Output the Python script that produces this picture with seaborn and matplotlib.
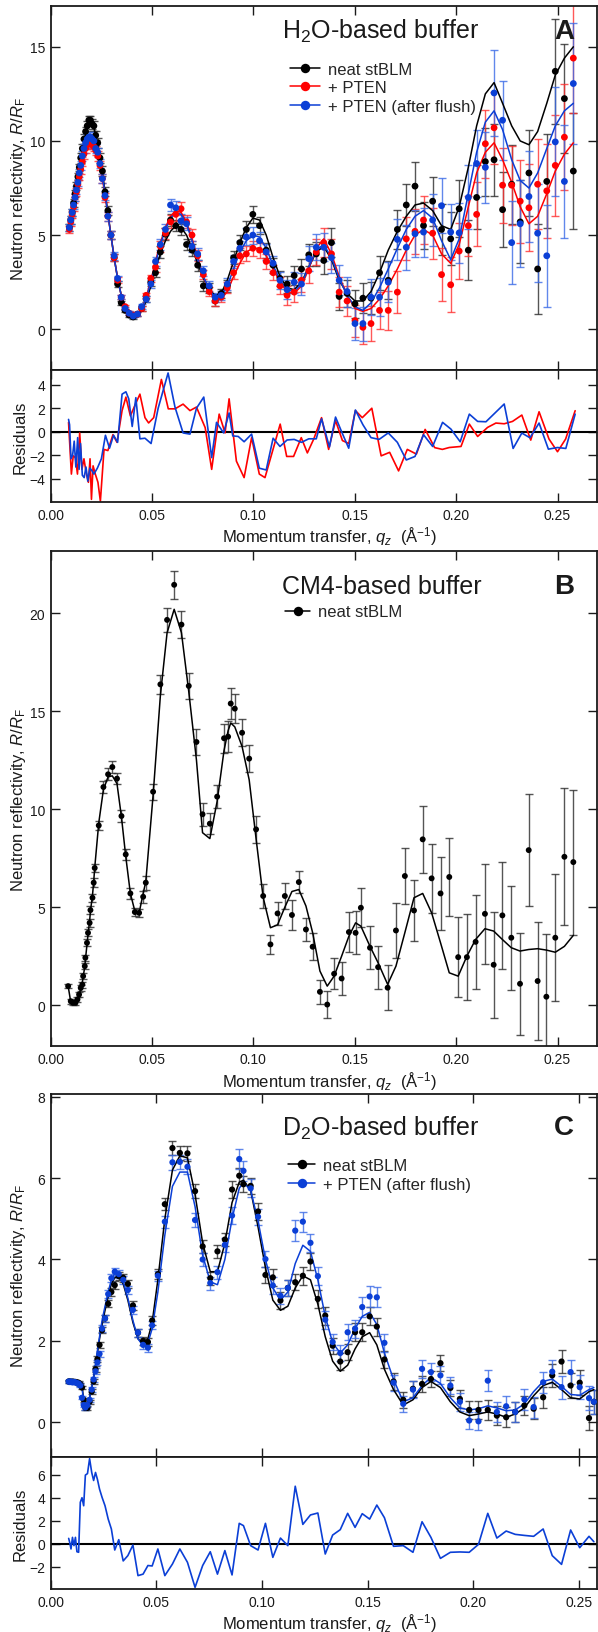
import matplotlib
matplotlib.use("Agg")
import matplotlib.pyplot as plt
import seaborn as sns
from matplotlib.lines import Line2D
from matplotlib.ticker import FormatStrFormatter

# ---------------------------------------------------------------- data
# Panel A: H2O-based buffer
q_h2o = [0.0092, 0.0099, 0.0106, 0.0113, 0.0120, 0.0127, 0.0134, 0.0141, 0.0148, 0.0156,
         0.0164, 0.0172, 0.0180, 0.0188, 0.0196, 0.0204, 0.0213, 0.0222, 0.0232, 0.0243,
         0.0255, 0.0268, 0.0282, 0.0297, 0.0313, 0.0330, 0.0348, 0.0367, 0.0387, 0.0407,
         0.0428, 0.0449, 0.0471, 0.0494, 0.0517, 0.0541, 0.0566, 0.0591, 0.0617, 0.0643,
         0.0670, 0.0697, 0.0725, 0.0753, 0.0782, 0.0811, 0.0841, 0.0871, 0.0902, 0.0933,
         0.0965, 0.0997, 0.1030, 0.1063, 0.1097, 0.1131, 0.1166, 0.1201, 0.1237, 0.1273,
         0.1310, 0.1347, 0.1385, 0.1423, 0.1462, 0.1501, 0.1540, 0.1580, 0.1622, 0.1665,
         0.1710, 0.1754, 0.1797, 0.1839, 0.1884, 0.1928, 0.1973, 0.2015, 0.2060, 0.2101,
         0.2144, 0.2187, 0.2229, 0.2274, 0.2316, 0.2359, 0.2402, 0.2447, 0.2489, 0.2534,
         0.2578]

r_neat_h2o = [5.4, 5.8, 6.2, 6.7, 7.2, 7.6, 8.1, 8.6, 9.1, 9.6,
              10.1, 10.5, 10.8, 11.1, 11.1, 10.9, 10.8, 10.3, 9.9, 9.1,
              8.4, 7.3, 6.3, 5.0, 3.8, 2.4, 1.4, 1.0, 0.75, 0.65,
              0.8, 1.1, 1.6, 2.5, 3.0, 4.1, 5.05, 5.8, 5.5, 5.3,
              4.5, 4.2, 3.4, 2.3, 2.2, 1.5, 1.9, 2.3, 3.8, 4.6,
              5.3, 6.1, 5.5, 4.2, 3.4, 2.7, 2.4, 2.85, 3.2, 3.95,
              4.0, 3.65, 4.6, 1.74, 1.9, 1.35, 1.65, 1.65, 3.0, 2.6,
              5.3, 6.6, 7.6, 5.5, 6.8, 5.3, 4.8, 6.4, 4.2, 7.0,
              8.9, 9.0, 6.35, 7.7, 5.7, 8.3, 3.2, 7.85, 13.7, 12.25,
              8.4]
r_pten_h2o = [5.3, 5.7, 6.1, 6.5, 7.0, 7.3, 7.7, 8.1, 8.5, 8.9,
              9.3, 9.6, 9.8, 9.9, 9.9, 9.8, 9.7, 9.5, 9.2, 8.7,
              8.0, 7.0, 6.0, 5.0, 3.8, 2.6, 1.7, 1.2, 0.85, 0.75,
              0.8, 1.1, 1.8, 2.7, 3.3, 4.4, 5.1, 5.7, 6.1, 6.4,
              5.7, 5.0, 3.9, 2.9, 2.0, 1.5, 1.7, 2.2, 3.0, 3.9,
              4.0, 4.3, 4.2, 3.6, 3.0, 2.3, 1.8, 1.97, 2.6, 3.1,
              4.1, 4.6, 4.0, 1.97, 1.5, 0.46, 0.1, 0.3, 1.0, 1.0,
              1.97, 4.8, 5.2, 5.8, 5.1, 2.9, 2.36, 4.15, 5.5, 6.1,
              9.85, 10.7, 7.65, 7.65, 6.8, 6.45, 7.7, 7.35, 8.7, 10.2,
              14.4]
r_flush_h2o = [5.4, 5.8, 6.2, 6.6, 7.0, 7.4, 7.8, 8.3, 8.7, 9.2,
               9.6, 9.9, 10.1, 10.2, 10.2, 10.1, 10.0, 9.6, 9.4, 8.8,
               8.0, 7.1, 6.0, 5.0, 3.9, 2.7, 1.7, 1.1, 0.85, 0.7,
               0.8, 1.2, 1.6, 2.4, 3.6, 4.5, 5.3, 6.6, 6.45, 5.75,
               5.6, 4.4, 4.0, 3.1, 2.3, 1.7, 1.8, 2.4, 3.6, 4.3,
               4.9, 5.0, 4.7, 4.1, 3.5, 2.6, 2.1, 2.5, 2.4, 3.75,
               4.35, 4.35, 3.8, 2.6, 2.0, 0.3, 0.3, 1.7, 1.7, 2.5,
               4.77, 4.35, 5.07, 5.16, 5.8, 6.56, 5.16, 5.12, 7.0, 8.8,
               8.6, 12.55, 11.1, 4.6, 5.6, 7.05, 5.1, 3.9, 9.95, 7.85,
               13.05]

err_neat_h2o = [0.2, 0.2, 0.2, 0.2, 0.2, 0.2, 0.2, 0.2, 0.25, 0.25,
                0.25, 0.25, 0.25, 0.25, 0.25, 0.25, 0.25, 0.25, 0.25, 0.25,
                0.25, 0.25, 0.25, 0.2, 0.2, 0.15, 0.12, 0.1, 0.1, 0.1,
                0.1, 0.12, 0.15, 0.2, 0.25, 0.3, 0.3, 0.3, 0.3, 0.3,
                0.3, 0.3, 0.3, 0.25, 0.25, 0.25, 0.25, 0.3, 0.35, 0.4,
                0.45, 0.45, 0.45, 0.4, 0.4, 0.4, 0.45, 0.5, 0.55, 0.6,
                0.65, 0.7, 0.75, 0.7, 0.7, 0.75, 0.8, 0.85, 0.9, 1.0,
                1.05, 1.1, 1.3, 1.25, 1.3, 1.35, 1.4, 1.5, 1.6, 1.7,
                1.8, 1.9, 2.0, 2.1, 2.2, 2.3, 2.4, 2.5, 2.8, 2.9,
                3.1]
err_pten_h2o = [0.2, 0.2, 0.2, 0.2, 0.2, 0.2, 0.2, 0.2, 0.25, 0.25,
                0.25, 0.25, 0.25, 0.25, 0.25, 0.25, 0.25, 0.25, 0.25, 0.25,
                0.25, 0.25, 0.25, 0.2, 0.2, 0.15, 0.12, 0.1, 0.1, 0.1,
                0.1, 0.12, 0.15, 0.2, 0.25, 0.3, 0.3, 0.35, 0.35, 0.35,
                0.35, 0.3, 0.3, 0.25, 0.25, 0.25, 0.25, 0.3, 0.35, 0.4,
                0.4, 0.4, 0.4, 0.4, 0.4, 0.45, 0.5, 0.55, 0.6, 0.65,
                0.7, 0.75, 0.8, 0.8, 0.8, 0.85, 0.9, 0.95, 1.0, 1.05,
                1.1, 1.15, 1.2, 1.3, 1.35, 1.4, 1.45, 1.5, 1.6, 1.7,
                1.8, 1.9, 2.0, 2.1, 2.2, 2.3, 2.4, 2.5, 2.7, 2.8,
                2.9]
err_flush_h2o = [0.2, 0.2, 0.2, 0.2, 0.2, 0.2, 0.2, 0.2, 0.25, 0.25,
                 0.25, 0.25, 0.25, 0.25, 0.25, 0.25, 0.25, 0.25, 0.25, 0.25,
                 0.25, 0.25, 0.25, 0.2, 0.2, 0.15, 0.12, 0.1, 0.1, 0.1,
                 0.1, 0.12, 0.15, 0.2, 0.25, 0.3, 0.3, 0.3, 0.35, 0.35,
                 0.35, 0.3, 0.3, 0.25, 0.25, 0.25, 0.25, 0.3, 0.35, 0.4,
                 0.45, 0.45, 0.45, 0.4, 0.4, 0.45, 0.5, 0.55, 0.6, 0.65,
                 0.7, 0.75, 0.8, 0.8, 0.8, 0.85, 0.9, 0.95, 1.0, 1.05,
                 1.1, 1.2, 1.25, 1.3, 1.4, 1.45, 1.5, 1.6, 1.7, 1.8,
                 1.9, 2.3, 2.1, 2.2, 2.3, 2.4, 2.6, 2.7, 2.9, 3.0,
                 3.2]

fit_neat_h2o = [5.3, 5.7, 6.1, 6.6, 7.0, 7.5, 7.9, 8.4, 8.9, 9.4,
                9.9, 10.3, 10.6, 10.8, 10.9, 10.9, 10.7, 10.3, 9.8, 9.1,
                8.3, 7.3, 6.2, 5.0, 3.8, 2.7, 1.8, 1.2, 0.85, 0.7,
                0.75, 1.0, 1.5, 2.3, 3.2, 4.0, 4.7, 5.2, 5.5, 5.4,
                5.0, 4.3, 3.5, 2.7, 2.1, 1.8, 1.9, 2.6, 3.6, 4.6,
                5.4, 5.9, 5.8, 5.0, 3.8, 2.8, 2.2, 2.1, 2.5, 3.3,
                4.1, 4.4, 3.7, 2.6, 1.9, 1.5, 1.5, 2.0, 3.0, 4.2,
                5.2, 6.0, 6.6, 6.7, 6.3, 5.5, 5.3, 6.5, 8.6, 10.8,
                12.5, 13.1, 12.0, 10.8, 10.0, 9.8, 10.5, 12.0, 13.5, 14.4,
                15.0]
fit_pten_h2o = [5.3, 5.7, 6.1, 6.5, 6.9, 7.3, 7.7, 8.1, 8.5, 8.9,
                9.3, 9.6, 9.8, 9.9, 9.9, 9.85, 9.7, 9.5, 9.2, 8.7,
                8.0, 7.1, 6.1, 5.0, 3.8, 2.7, 1.8, 1.2, 0.85, 0.7,
                0.75, 1.05, 1.7, 2.6, 3.6, 4.6, 5.4, 6.0, 6.3, 6.2,
                5.7, 4.8, 3.8, 2.8, 2.0, 1.6, 1.6, 2.0, 2.8, 3.5,
                4.1, 4.3, 4.3, 3.9, 3.2, 2.5, 2.0, 1.9, 2.3, 3.2,
                4.3, 4.8, 4.0, 2.8, 1.8, 1.1, 0.95, 1.1, 1.6, 2.3,
                3.2, 4.2, 5.0, 5.3, 5.0, 4.0, 3.5, 4.5, 6.5, 8.3,
                9.4, 9.9, 9.0, 7.8, 6.5, 5.6, 6.0, 7.2, 8.4, 9.3,
                9.9]
fit_flush_h2o = [5.3, 5.7, 6.1, 6.6, 7.0, 7.4, 7.8, 8.3, 8.7, 9.2,
                 9.6, 9.95, 10.2, 10.3, 10.3, 10.25, 10.1, 9.8, 9.4, 8.8,
                 8.1, 7.2, 6.1, 5.0, 3.8, 2.7, 1.8, 1.2, 0.85, 0.7,
                 0.75, 1.05, 1.65, 2.5, 3.5, 4.5, 5.3, 5.9, 6.2, 6.1,
                 5.6, 4.7, 3.7, 2.8, 2.1, 1.7, 1.8, 2.3, 3.2, 4.1,
                 4.7, 5.0, 4.9, 4.3, 3.4, 2.6, 2.1, 2.0, 2.4, 3.3,
                 4.2, 4.5, 3.8, 2.7, 1.8, 1.2, 1.0, 1.4, 2.2, 3.2,
                 4.3, 5.3, 6.0, 6.3, 5.9, 4.7, 3.7, 4.8, 7.2, 9.4,
                 11.0, 11.6, 10.6, 9.0, 7.9, 7.5, 8.3, 9.6, 10.8, 11.6,
                 12.0]

res_q_pten_h2o = [0.0088, 0.0102, 0.0111, 0.0122, 0.0132, 0.0143, 0.0154, 0.0164, 0.0175, 0.0186,
                  0.0194, 0.0201, 0.0209, 0.0220, 0.0233, 0.0245, 0.0263, 0.0282, 0.0307, 0.0327,
                  0.0352, 0.0371, 0.0393, 0.0418, 0.0440, 0.0465, 0.0483, 0.0508, 0.0546, 0.0580,
                  0.0613, 0.0653, 0.0687, 0.0719, 0.0762, 0.0794, 0.0831, 0.0860, 0.0880, 0.0916,
                  0.0954, 0.0991, 0.1029, 0.1057, 0.1095, 0.1132, 0.1164, 0.1198, 0.1236, 0.1266,
                  0.1298, 0.1336, 0.1371, 0.1405, 0.1439, 0.1470, 0.1503, 0.1537, 0.1584, 0.1630,
                  0.1672, 0.1716, 0.1759, 0.1804, 0.1847, 0.1894, 0.1932, 0.1966, 0.2024, 0.2065,
                  0.2106, 0.2155, 0.2196, 0.2237, 0.2278, 0.2324, 0.2368, 0.2409, 0.2458, 0.2500,
                  0.2540, 0.2587]
res_pten_h2o = [0.8, -3.6, -2.05, -2.2, -3.6, -0.1, -3.2, -2.3, -3.5, -4.3,
                -2.3, -5.75, -2.9, -3.6, -4.3, -5.9, -1.5, -1.6, -0.25, -0.9,
                1.8, 2.95, 1.35, 2.35, 3.2, 1.2, 0.75, 1.2, 4.45, 1.95,
                1.95, 2.35, 1.8, 2.1, 0.35, -3.2, 1.5, -0.1, 2.8, -2.5,
                -3.9, -0.5, -3.6, -3.9, -1.6, 0.65, -2.1, -2.1, -0.5, -1.8,
                -0.6, 1.2, -1.5, 0.95, -0.75, -1.0, 1.8, 1.2, 2.0, -2.05,
                -1.75, -3.33, -1.5, -1.9, 0.2, -1.35, -1.5, -1.34, -1.25, 0.65,
                -0.4, 0.37, 0.74, 0.68, 0.88, 1.42, -0.71, 1.7, -0.62, -1.7,
                -0.62, 1.79]

res_q_flush_h2o = [0.0088, 0.0093, 0.0100, 0.0108, 0.0116, 0.0124, 0.0133, 0.0140, 0.0147, 0.0156,
                   0.0165, 0.0174, 0.0183, 0.0193, 0.0203, 0.0213, 0.0230, 0.0250, 0.0270, 0.0290,
                   0.0310, 0.0330, 0.0352, 0.0371, 0.0385, 0.0402, 0.0420, 0.0440, 0.0465, 0.0495,
                   0.0530, 0.0579, 0.0613, 0.0653, 0.0687, 0.0719, 0.0755, 0.0794, 0.0818, 0.0853,
                   0.0880, 0.0898, 0.0925, 0.0954, 0.0991, 0.1029, 0.1063, 0.1097, 0.1131, 0.1166,
                   0.1201, 0.1237, 0.1273, 0.1310, 0.1336, 0.1375, 0.1405, 0.1435, 0.1470, 0.1503,
                   0.1540, 0.1580, 0.1620, 0.1665, 0.1710, 0.1754, 0.1797, 0.1839, 0.1884, 0.1933,
                   0.1974, 0.2020, 0.2065, 0.2106, 0.2147, 0.2237, 0.2281, 0.2324, 0.2364, 0.2409,
                   0.2455, 0.2500, 0.2541, 0.2587]
res_flush_h2o = [1.05, 0.6, -2.3, -2.0, -0.8, -3.0, -0.5, -3.2, -1.0, -3.7,
                 -3.9, -3.0, -4.2, -3.1, -3.3, -3.6, -3.1, -2.3, -0.3, -1.4,
                 -0.3, -0.9, 3.2, 3.4, 2.8, 0.45, 2.9, -0.6, -0.55, -1.0,
                 2.0, 5.0, 2.1, -0.1, -0.2, 2.0, 2.95, -2.2, 0.8, -0.1,
                 1.6, -0.35, -0.4, -0.85, -0.2, -3.1, -3.25, -0.55, -1.25, -0.7,
                 -0.65, -0.9, -0.6, -0.6, 1.1, -1.3, 1.25, 0.0, -1.4, 1.85,
                 0.6, -0.5, -0.65, -0.1, -0.9, -2.4, -2.1, -0.25, -1.25, 0.8,
                 0.23, -0.85, 1.5, 0.88, 0.85, 2.36, -1.42, -0.11, -0.51, 0.74,
                 -1.48, -1.34, -1.42, 1.5]

# Panel B: CM4-based buffer
q_cm4 = [0.0086, 0.0099, 0.0110, 0.0122, 0.0132, 0.0140, 0.0148, 0.0156, 0.0160, 0.0168,
         0.0171, 0.0179, 0.0184, 0.0192, 0.0196, 0.0206, 0.0212, 0.0217, 0.0237, 0.0260,
         0.0283, 0.0304, 0.0327, 0.0349, 0.0370, 0.0393, 0.0415, 0.0436, 0.0456, 0.0469,
         0.0505, 0.0541, 0.0574, 0.0609, 0.0645, 0.0681, 0.0719, 0.0749, 0.0785, 0.0821,
         0.0855, 0.0875, 0.0888, 0.0908, 0.0944, 0.0979, 0.1013, 0.1048, 0.1084, 0.1119,
         0.1155, 0.1190, 0.1224, 0.1259, 0.1292, 0.1328, 0.1364, 0.1398, 0.1435, 0.1471,
         0.1504, 0.1530, 0.1575, 0.1615, 0.1662, 0.1703, 0.1747, 0.1792, 0.1835, 0.1879,
         0.1923, 0.1966, 0.2010, 0.2053, 0.2096, 0.2142, 0.2185, 0.2228, 0.2272, 0.2315,
         0.2358, 0.2402, 0.2445, 0.2489, 0.2534, 0.2578]
r_cm4 = [0.97, 0.2, 0.12, 0.12, 0.29, 0.54, 0.88, 1.05, 1.48, 1.99,
         2.42, 3.18, 3.69, 4.2, 4.85, 5.48, 6.25, 7.0, 9.17, 11.13,
         11.78, 12.15, 11.56, 9.65, 7.69, 5.7, 4.75, 4.71, 5.53, 6.25,
         10.89, 16.37, 19.66, 21.45, 19.42, 16.29, 13.43, 9.74, 9.26, 10.64,
         13.62, 13.7, 15.39, 15.13, 13.9, 12.58, 8.97, 5.57, 3.1, 4.68,
         5.57, 4.6, 6.28, 3.86, 2.98, 0.68, 0.03, 1.6, 1.36, 3.73,
         3.69, 4.97, 2.93, 1.94, 0.89, 3.81, 6.59, 4.83, 8.46, 6.47,
         5.7, 6.54, 2.45, 2.45, 3.23, 4.66, 2.06, 4.58, 3.44, 1.09,
         7.91, 1.23, 0.43, 3.44, 7.57, 7.3]
err_cm4 = [0.1, 0.12, 0.12, 0.12, 0.12, 0.12, 0.15, 0.15, 0.15, 0.15,
           0.15, 0.18, 0.18, 0.2, 0.2, 0.2, 0.22, 0.22, 0.25, 0.3,
           0.3, 0.3, 0.3, 0.3, 0.3, 0.3, 0.2, 0.2, 0.3, 0.35,
           0.4, 0.5, 0.6, 0.72, 0.7, 0.65, 0.65, 0.6, 0.55, 0.6,
           0.75, 0.8, 0.8, 0.75, 0.7, 0.7, 0.7, 0.6, 0.5, 0.6,
           0.65, 0.75, 0.55, 0.6, 0.7, 0.6, 0.7, 0.8, 0.85, 1.0,
           1.1, 1.0, 1.1, 1.1, 1.15, 1.4, 1.45, 1.55, 1.7, 1.75,
           1.85, 2.0, 2.05, 2.2, 2.4, 2.55, 2.7, 2.75, 2.65, 2.6,
           2.85, 3.0, 3.2, 3.25, 3.5, 3.7]
fit_cm4 = [0.97, 0.15, 0.1, 0.12, 0.28, 0.5, 0.85, 1.15, 1.45, 1.95,
           2.3, 3.1, 3.6, 4.3, 4.8, 5.6, 6.3, 7.0, 9.3, 11.0,
           11.65, 11.7, 11.3, 9.6, 7.6, 5.7, 4.8, 4.7, 5.7, 6.3,
           10.7, 15.8, 19.0, 20.2, 19.0, 16.0, 12.5, 8.8, 8.5, 10.4,
           13.0, 14.0, 14.4, 14.2, 13.2, 11.5, 8.5, 5.5, 3.95, 4.1,
           5.0, 5.8, 5.9, 5.06, 3.7, 1.74, 0.97, 1.48, 2.5, 3.52,
           4.2, 4.03, 3.0, 2.16, 1.06, 1.99, 3.7, 5.48, 5.7, 4.71,
           3.18, 1.65, 1.48, 2.5, 3.35, 3.9, 3.78, 3.35, 2.93, 2.76,
           2.84, 2.88, 2.81, 2.7, 3.0, 3.56]

# Panel C: D2O-based buffer
q_d2o = [0.0085, 0.0090, 0.0096, 0.0103, 0.0110, 0.0117, 0.0124, 0.0132, 0.0140, 0.0148,
         0.0156, 0.0164, 0.0174, 0.0184, 0.0194, 0.0203, 0.0212, 0.0221, 0.0231, 0.0243,
         0.0257, 0.0272, 0.0287, 0.0303, 0.0322, 0.0343, 0.0365, 0.0389, 0.0413, 0.0437,
         0.0460, 0.0480, 0.0507, 0.0540, 0.0576, 0.0611, 0.0647, 0.0683, 0.0719, 0.0755,
         0.0789, 0.0824, 0.0858, 0.0892, 0.0912, 0.0946, 0.0981, 0.1016, 0.1051, 0.1087,
         0.1122, 0.1157, 0.1193, 0.1229, 0.1264, 0.1299, 0.1334, 0.1370, 0.1405, 0.1440,
         0.1474, 0.1509, 0.1543, 0.1579, 0.1622, 0.1668, 0.1714, 0.1757, 0.1799, 0.1844,
         0.1891, 0.1936, 0.1980, 0.2024, 0.2068, 0.2111, 0.2155, 0.2198, 0.2241, 0.2285,
         0.2330, 0.2373, 0.2417, 0.2460, 0.2503, 0.2547, 0.2570]
r_neat_d2o = [1.0, 1.0, 0.99, 1.0, 0.99, 0.99, 0.98, 0.97, 0.93, 0.85,
              0.55, 0.35, 0.35, 0.5, 0.75, 1.0, 1.3, 1.55, 1.9, 2.26,
              2.55, 2.91, 3.2, 3.37, 3.59, 3.55, 3.4, 2.87, 2.2, 2.0,
              1.97, 2.5, 3.64, 5.36, 6.74, 6.62, 6.61, 5.68, 4.32, 3.54,
              4.2, 4.49, 5.72, 6.06, 5.85, 5.81, 5.18, 3.62, 3.56, 2.99,
              3.3, 3.44, 3.6, 3.95, 3.03, 2.62, 1.88, 1.49, 1.72, 2.21,
              2.21, 2.6, 2.35, 1.54, 1.0, 0.55, 0.82, 0.94, 1.06, 1.45,
              0.84, 0.57, 0.3, 0.3, 0.3, 0.16, 0.12, 0.25, 0.41, 0.33,
              0.61, 1.15, 1.49, 0.9, 0.97, 0.1, 0.5]
r_flush_d2o = [1.0, 0.99, 1.0, 0.98, 0.99, 0.98, 0.96, 0.95, 0.9, 0.6,
               0.42, 0.36, 0.42, 0.55, 0.8, 1.05, 1.25, 1.47, 1.68, 2.3,
               2.55, 3.15, 3.54, 3.7, 3.64, 3.5, 3.25, 2.76, 2.2, 1.9,
               1.83, 2.38, 3.6, 4.93, 6.39, 6.4, 6.28, 4.97, 4.0, 3.42,
               3.69, 4.36, 5.08, 6.47, 6.18, 5.75, 5.05, 4.01, 3.36, 3.11,
               3.3, 4.71, 4.93, 4.41, 3.59, 2.52, 1.97, 1.7, 2.21, 2.3,
               2.83, 3.09, 3.07, 1.95, 0.97, 0.45, 0.8, 1.31, 1.23, 1.15,
               0.9, 0.5, 0.04, 0.02, 1.02, 0.25, 0.39, 0.25, 0.56, 0.37,
               0.98, 1.24, 0.86, 1.23, 0.86, 0.59, 0.5]
err_neat_d2o = [0.03, 0.03, 0.03, 0.03, 0.03, 0.03, 0.03, 0.03, 0.04, 0.04, 0.05, 0.05,
                0.05, 0.05, 0.06, 0.06, 0.07, 0.07, 0.08, 0.08, 0.09, 0.09, 0.1, 0.1,
                0.1, 0.1, 0.1, 0.1, 0.1, 0.1, 0.1, 0.1, 0.12, 0.15, 0.18, 0.18,
                0.18, 0.18, 0.16, 0.16, 0.16, 0.17, 0.2, 0.2, 0.2, 0.2, 0.2, 0.2,
                0.2, 0.2, 0.2, 0.2, 0.22, 0.22, 0.22, 0.22, 0.2, 0.2, 0.2, 0.22,
                0.22, 0.22, 0.22, 0.2, 0.2, 0.2, 0.2, 0.2, 0.2, 0.2, 0.2, 0.22,
                0.22, 0.22, 0.24, 0.24, 0.24, 0.24, 0.24, 0.26, 0.26, 0.28, 0.28, 0.3,
                0.3, 0.3, 0.3]
err_flush_d2o = [0.03, 0.03, 0.03, 0.03, 0.03, 0.03, 0.03, 0.03, 0.04, 0.04, 0.05, 0.05,
                 0.05, 0.05, 0.06, 0.06, 0.07, 0.07, 0.08, 0.08, 0.09, 0.09, 0.1, 0.1,
                 0.1, 0.1, 0.1, 0.1, 0.1, 0.1, 0.1, 0.1, 0.12, 0.15, 0.18, 0.18,
                 0.18, 0.18, 0.16, 0.16, 0.16, 0.17, 0.2, 0.24, 0.24, 0.22, 0.2, 0.2,
                 0.2, 0.2, 0.2, 0.25, 0.25, 0.22, 0.22, 0.22, 0.2, 0.2, 0.2, 0.22,
                 0.25, 0.25, 0.25, 0.22, 0.2, 0.2, 0.2, 0.22, 0.22, 0.22, 0.22, 0.22,
                 0.22, 0.22, 0.25, 0.25, 0.25, 0.25, 0.25, 0.26, 0.26, 0.28, 0.28, 0.3,
                 0.3, 0.3, 0.3]
fit_neat_d2o = [1.0, 1.0, 1.0, 1.0, 1.0, 1.0, 1.0, 1.0, 0.98, 0.9,
                0.55, 0.34, 0.4, 0.6, 0.85, 1.1, 1.4, 1.7, 2.05, 2.4,
                2.75, 3.1, 3.4, 3.55, 3.58, 3.4, 3.0, 2.45, 2.05, 1.93,
                2.05, 2.45, 3.5, 5.0, 6.2, 6.55, 6.5, 5.6, 4.4, 3.7,
                3.7, 4.4, 5.4, 5.9, 5.95, 5.7, 4.8, 3.8, 3.0, 2.75,
                2.85, 3.3, 3.6, 3.5, 2.9, 2.1, 1.5, 1.25, 1.4, 1.8,
                2.1, 2.2, 1.9, 1.3, 0.8, 0.42, 0.55, 0.85, 1.0, 0.85,
                0.5, 0.25, 0.16, 0.2, 0.25, 0.2, 0.12, 0.2, 0.35, 0.65,
                0.9, 0.98, 0.8, 0.6, 0.57, 0.75, 0.8]
fit_flush_d2o = [1.0, 1.0, 1.0, 1.0, 1.0, 1.0, 1.0, 1.0, 0.97, 0.85,
                 0.5, 0.38, 0.42, 0.6, 0.85, 1.1, 1.4, 1.75, 2.1, 2.5,
                 2.85, 3.2, 3.5, 3.65, 3.65, 3.45, 3.05, 2.5, 2.05, 1.88,
                 1.95, 2.3, 3.2, 4.6, 5.8, 6.15, 6.15, 5.3, 4.1, 3.45,
                 3.38, 4.0, 5.0, 5.75, 5.9, 5.7, 4.95, 4.0, 3.3, 3.0,
                 3.2, 3.9, 4.35, 4.2, 3.5, 2.6, 1.95, 1.7, 1.9, 2.3,
                 2.6, 2.7, 2.4, 1.7, 1.05, 0.5, 0.6, 0.9, 1.1, 0.95,
                 0.6, 0.35, 0.3, 0.33, 0.4, 0.35, 0.28, 0.3, 0.45, 0.75,
                 1.0, 1.06, 0.88, 0.68, 0.66, 0.8, 0.85]
res_flush_d2o = [0.46, 0.1, -0.46, 0.55, -0.17, 0.55, -0.7, -0.75, 3.6, 4.0,
                 3.3, 5.97, 6.1, 7.4, 6.2, 5.5, 6.2, 5.6, 4.75, 4.03,
                 3.3, 2.14, 1.28, -0.55, 0.35, -1.5, -1.04, -0.12, -2.78, -2.65,
                 -1.9, -1.94, -0.46, -2.78, -1.77, -0.46, -1.62, -3.8, -1.9, -0.7,
                 -2.65, -0.6, -2.72, 1.77, 1.57, -0.17, -0.55, 1.77, -1.19, 0.49,
                 -0.17, 5.0, 1.68, 2.5, 2.67, -0.9, 0.75, 1.22, 2.64, 1.42,
                 2.61, 2.14, 3.36, 2.26, -0.23, -0.17, -0.75, 1.91, 0.55, -1.28,
                 -0.75, -0.72, -0.75, -0.06, 2.64, 0.49, 1.1, 0.81, 0.72, 0.64,
                 1.28, -1.04, -1.8, 1.19, -0.35, 0.64, 0.17]

q_ticks = [0.00, 0.05, 0.10, 0.15, 0.20, 0.25]

# ---------------------------------------------------------------- style
sns.set_theme(style="ticks")
plt.rcParams["font.family"] = ["Liberation Sans", "DejaVu Sans"]
plt.rcParams["mathtext.fontset"] = "custom"
plt.rcParams["mathtext.rm"] = "Liberation Sans"
plt.rcParams["mathtext.it"] = "Liberation Sans:italic"
plt.rcParams["mathtext.bf"] = "Liberation Sans:bold"
plt.rcParams["mathtext.sf"] = "Liberation Sans"

BLACK, RED, BLUE = "#000000", "#ff0000", "#0b3fd6"
EBLACK, ERED, EBLUE = "#2a2a2a", "#ff3030", "#3a6ae6"
TXT = "#1a1a1a"
LABEL_SIZE = 12

YLAB = r"Neutron reflectivity, $R/R_\mathrm{F}$"
XLAB = r"Momentum transfer, $q_z$  (Å$^{-1}$)"

fig = plt.figure(figsize=(5.98, 16.33), dpi=100)
L, W = 0.0848, 0.9136
axA = fig.add_axes([L, 0.7730, W, 0.2225])
axAr = fig.add_axes([L, 0.6918, W, 0.0812])
axB = fig.add_axes([L, 0.35867, W, 0.3030])
axC = fig.add_axes([L, 0.10735, W, 0.22211])
axCr = fig.add_axes([L, 0.02615, W, 0.0812])


def style_axes(ax, xmax, ylim, yticks, show_x):
    ax.set_xlim(0, xmax)
    ax.set_ylim(*ylim)
    ax.set_xticks(q_ticks)
    ax.set_yticks(yticks)
    ax.xaxis.set_major_formatter(FormatStrFormatter("%.2f"))
    ax.tick_params(direction="in", length=6.5, width=1.0, top=True, right=True,
                   labelsize=10, pad=4, colors=TXT)
    ax.tick_params(axis="x", labelbottom=show_x)
    for sp in ax.spines.values():
        sp.set_linewidth(1.3)
        sp.set_color(TXT)
    ax.set_xlabel("")
    ax.set_ylabel("")


def draw_series(ax, q, r, e, fit, color, ecolor, size):
    ax.errorbar(q, r, yerr=e, fmt="none", ecolor=ecolor, elinewidth=1.0,
                capsize=3.2, capthick=1.0, alpha=0.8, zorder=2)
    sns.lineplot(x=q, y=fit, ax=ax, color=color, lw=1.1, sort=False,
                 estimator=None, legend=False, zorder=3)
    sns.scatterplot(x=q, y=r, ax=ax, color=color, s=size, edgecolor="none",
                    linewidth=0, legend=False, zorder=4)


def add_legend(ax, labels, colors, x, y, hl):
    handles = [Line2D([0], [0], color=c, lw=1.1, marker="o", markersize=6.8,
                      markeredgewidth=0) for c in colors]
    ax.legend(handles, labels, loc="upper left", bbox_to_anchor=(x, y),
              frameon=False, fontsize=12, handlelength=hl, handletextpad=0.45,
              labelspacing=0.2, borderpad=0, borderaxespad=0)


def panel_heading(ax, title, letter, y):
    ax.text(0.424, y, title, transform=ax.transAxes, fontsize=18,
            ha="left", va="center", color=TXT)
    ax.text(0.958, y, letter, transform=ax.transAxes, fontsize=20,
            fontweight="bold", ha="right", va="center", color=TXT)


def set_ylabel(ax, text):
    ax.set_ylabel(text, fontsize=LABEL_SIZE, color=TXT)
    ax.yaxis.set_label_coords(-0.0415, 0.5)


def set_xlabel(ax, text, ypos):
    ax.set_xlabel(text, fontsize=LABEL_SIZE, color=TXT)
    ax.xaxis.set_label_coords(0.51, ypos)


# ---------------------------------------------------------------- panel A
XMAX_AB = 0.2695
draw_series(axA, q_h2o, r_neat_h2o, err_neat_h2o, fit_neat_h2o, BLACK, EBLACK, 24)
draw_series(axA, q_h2o, r_pten_h2o, err_pten_h2o, fit_pten_h2o, RED, ERED, 24)
draw_series(axA, q_h2o, r_flush_h2o, err_flush_h2o, fit_flush_h2o, BLUE, EBLUE, 24)
style_axes(axA, XMAX_AB, (-2.15, 17.15), [0, 5, 10, 15], False)
set_ylabel(axA, YLAB)
panel_heading(axA, r"H$_2$O-based buffer", "A", 0.933)
add_legend(axA, ["neat stBLM", "+ PTEN", "+ PTEN (after flush)"],
           [BLACK, RED, BLUE], 0.438, 0.847, 1.8)

axAr.axhline(0, color="#000000", lw=1.5, zorder=1)
sns.lineplot(x=res_q_pten_h2o, y=res_pten_h2o, ax=axAr, color=RED, lw=1.2,
             sort=False, estimator=None, legend=False, zorder=2)
sns.lineplot(x=res_q_flush_h2o, y=res_flush_h2o, ax=axAr, color=BLUE, lw=1.2,
             sort=False, estimator=None, legend=False, zorder=3)
style_axes(axAr, XMAX_AB, (-6.0, 5.28), [-4, -2, 0, 2, 4], True)
set_ylabel(axAr, "Residuals")
set_xlabel(axAr, XLAB, -0.17)

# ---------------------------------------------------------------- panel B
draw_series(axB, q_cm4, r_cm4, err_cm4, fit_cm4, BLACK, EBLACK, 18)
style_axes(axB, XMAX_AB, (-2.1, 23.15), [0, 5, 10, 15, 20], True)
set_ylabel(axB, YLAB)
set_xlabel(axB, XLAB, -0.046)
panel_heading(axB, "CM4-based buffer", "B", 0.931)
add_legend(axB, ["neat stBLM"], [BLACK], 0.429, 0.893, 1.5)

# ---------------------------------------------------------------- panel C
XMAX_C = 0.2585
draw_series(axC, q_d2o, r_neat_d2o, err_neat_d2o, fit_neat_d2o, BLACK, EBLACK, 20)
draw_series(axC, q_d2o, r_flush_d2o, err_flush_d2o, fit_flush_d2o, BLUE, EBLUE, 20)
style_axes(axC, XMAX_C, (-0.85, 8.07), [0, 2, 4, 6, 8], False)
set_ylabel(axC, YLAB)
panel_heading(axC, r"D$_2$O-based buffer", "C", 0.909)
add_legend(axC, ["neat stBLM", "+ PTEN (after flush)"], [BLACK, BLUE],
           0.435, 0.823, 1.6)

axCr.axhline(0, color="#000000", lw=1.5, zorder=1)
sns.lineplot(x=q_d2o, y=res_flush_d2o, ax=axCr, color=BLUE, lw=1.2,
             sort=False, estimator=None, legend=False, zorder=2)
style_axes(axCr, XMAX_C, (-3.97, 7.57), [-2, 0, 2, 4, 6], True)
set_ylabel(axCr, "Residuals")
set_xlabel(axCr, XLAB, -0.17)

fig.savefig("out.png", dpi=100)
